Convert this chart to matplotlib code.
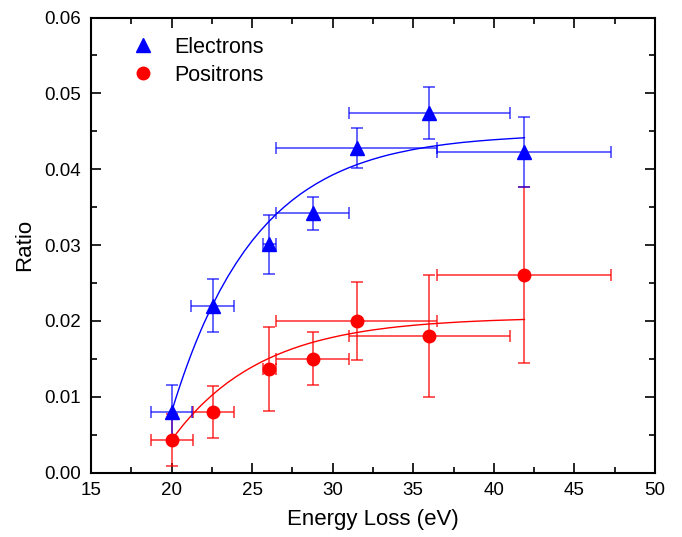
import matplotlib
matplotlib.use("Agg")
import matplotlib.pyplot as plt
from matplotlib.lines import Line2D
from matplotlib.ticker import MultipleLocator, FormatStrFormatter

plt.rcParams['font.family'] = ['Liberation Sans', 'DejaVu Sans']

# electrons: data points
e_x = [20.0, 22.6, 26.05, 28.75, 31.5, 36.0, 41.9]
e_y = [0.0080, 0.0220, 0.0301, 0.0342, 0.0428, 0.0474, 0.0423]
e_yerr = [0.0035, 0.0035, 0.0039, 0.0022, 0.0026, 0.0034, 0.0046]
e_xlo = [1.3, 1.4, 0.4, 2.25, 5.0, 5.0, 5.4]
e_xhi = [1.25, 1.3, 0.45, 2.25, 4.95, 5.0, 5.4]

# positrons
p_x = [20.0, 22.6, 26.05, 28.75, 31.5, 36.0, 41.9]
p_y = [0.0043, 0.0080, 0.0137, 0.0150, 0.0200, 0.0180, 0.0261]
p_yerr = [0.0034, 0.0034, 0.0055, 0.0035, 0.0052, 0.0080, 0.0116]
p_xlo = [1.3, 1.3, 0.35, 2.25, 5.0, 5.0, 5.4]
p_xhi = [1.3, 1.3, 0.45, 2.25, 5.0, 5.0, 5.4]

# fitted curves
fit_x = [20.0, 20.25, 20.5, 20.75, 21.0, 21.25, 21.5, 21.75, 22.0, 22.5,
         23.0, 23.5, 24.0, 24.5, 25.0, 25.5, 26.0, 26.5, 27.0, 27.5, 28.0,
         28.5, 29.0, 29.5, 30.0, 30.5, 31.0, 31.5, 32.0, 32.5, 33.0, 33.5,
         34.0, 35.0, 36.0, 37.0, 38.0, 39.0, 40.0, 41.0, 41.9]
e_fit = [0.00800, 0.00971, 0.01134, 0.01289, 0.01437, 0.01579, 0.01714,
         0.01842, 0.01965, 0.02192, 0.02400, 0.02588, 0.02759, 0.02915,
         0.03057, 0.03185, 0.03302, 0.03409, 0.03505, 0.03593, 0.03673,
         0.03745, 0.03811, 0.03871, 0.03926, 0.03975, 0.04020, 0.04061,
         0.04098, 0.04132, 0.04163, 0.04191, 0.04216, 0.04260, 0.04297,
         0.04327, 0.04352, 0.04372, 0.04389, 0.04403, 0.04415]
p_fit = [0.00430, 0.00502, 0.00570, 0.00636, 0.00698, 0.00758, 0.00815,
         0.00870, 0.00922, 0.01020, 0.01109, 0.01191, 0.01265, 0.01333,
         0.01395, 0.01452, 0.01504, 0.01551, 0.01594, 0.01634, 0.01670,
         0.01703, 0.01733, 0.01760, 0.01785, 0.01808, 0.01829, 0.01848,
         0.01866, 0.01882, 0.01896, 0.01910, 0.01922, 0.01943, 0.01961,
         0.01975, 0.01988, 0.01998, 0.02007, 0.02014, 0.02020]

fig = plt.figure(figsize=(6.82, 5.37), dpi=100)
ax = fig.add_axes([0.1334, 0.1197, 0.8270, 0.8477])

# fit lines
ax.plot(fit_x, p_fit, color='red', lw=1.0, zorder=2)
ax.plot(fit_x, e_fit, color='blue', lw=1.0, zorder=2)

# error bars
ax.errorbar(p_x, p_y, yerr=p_yerr, xerr=[p_xlo, p_xhi], fmt='none',
            ecolor=(1.0, 0.0, 0.0, 0.7), elinewidth=1.3, capsize=4,
            capthick=1.3, zorder=3)
ax.errorbar(e_x, e_y, yerr=e_yerr, xerr=[e_xlo, e_xhi], fmt='none',
            ecolor=(0.0, 0.0, 1.0, 0.65), elinewidth=1.3, capsize=4,
            capthick=1.3, zorder=3)

# markers
ax.plot(p_x, p_y, 'o', color='red', ms=9, mec='red', ls='none', zorder=4)
ax.plot(e_x, e_y, '^', color='blue', ms=10, mec='blue', ls='none', zorder=5)

ax.set_xlim(15, 50)
ax.set_ylim(0, 0.06)
ax.xaxis.set_major_locator(MultipleLocator(5))
ax.xaxis.set_minor_locator(MultipleLocator(2.5))
ax.yaxis.set_major_locator(MultipleLocator(0.01))
ax.yaxis.set_minor_locator(MultipleLocator(0.005))
ax.yaxis.set_major_formatter(FormatStrFormatter('%.2f'))

ax.tick_params(which='both', direction='in', top=True, right=True,
               labelsize=13.5, width=1.2)
ax.tick_params(which='major', length=7, pad=7)
ax.tick_params(which='minor', length=4)
for s in ax.spines.values():
    s.set_linewidth(1.5)

ax.set_xlabel('Energy Loss (eV)', fontsize=16, labelpad=7)
ax.set_ylabel('Ratio', fontsize=16, labelpad=7)

handles = [Line2D([], [], marker='^', color='blue', ls='none', ms=10),
           Line2D([], [], marker='o', color='red', ls='none', ms=9)]
ax.legend(handles, ['Electrons', 'Positrons'], loc='upper left',
          frameon=False, fontsize=15.5, handletextpad=0.7, labelspacing=0.32,
          bbox_to_anchor=(0.03, 1.0), handlelength=1.5)

plt.savefig('out.png', dpi=100)
